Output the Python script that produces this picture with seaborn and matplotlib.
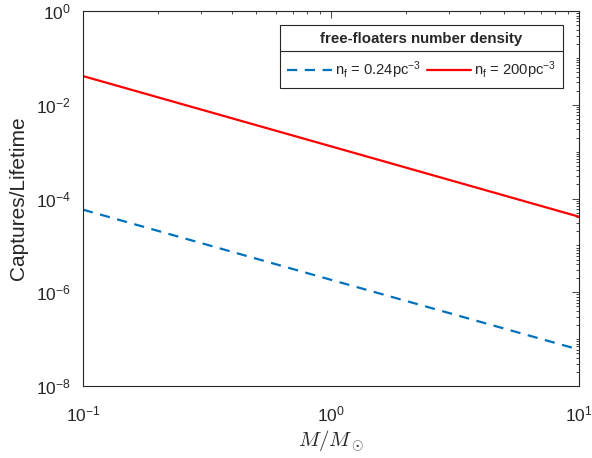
import numpy as np
import pandas as pd
import matplotlib
matplotlib.use("Agg")
import matplotlib.pyplot as plt
import matplotlib.ticker as mticker
from matplotlib.lines import Line2D
import seaborn as sns

# Capture rate per lifetime vs. stellar mass, for two free-floater densities
mass = [0.1, 1.0, 10.0]
rate_low = [5.8e-5, 1.85e-6, 6.0e-8]     # n_f = 0.24 pc^-3
rate_high = [4.1e-2, 1.3e-3, 4.1e-5]     # n_f = 200 pc^-3
labels = [r"$\mathregular{n_f}$ = 0.24pc$^{\mathregular{-3}}$",
          r"$\mathregular{n_f}$ = 200pc$^{\mathregular{-3}}$"]
legend_title = "free-floaters number density"
x_ticks = [0.1, 1.0, 10.0]
y_ticks = [1e-8, 1e-6, 1e-4, 1e-2, 1e0]

sns.set_style("white")
plt.rcParams["font.family"] = ["Liberation Sans", "DejaVu Sans"]
plt.rcParams["mathtext.fontset"] = "custom"
plt.rcParams["mathtext.rm"] = "Liberation Sans"
plt.rcParams["mathtext.it"] = "Liberation Sans:italic"
plt.rcParams["mathtext.bf"] = "Liberation Sans:bold"

df = pd.DataFrame({
    "M": mass * 2,
    "rate": rate_low + rate_high,
    "series": [labels[0]] * len(mass) + [labels[1]] * len(mass),
})

fig = plt.figure(figsize=(5.92, 4.58), dpi=100)
ax = fig.add_axes([0.140, 0.157, 0.838, 0.819])

sns.lineplot(data=df[df.series == labels[0]], x="M", y="rate", ax=ax,
             color="#0072BD", linewidth=1.6, label=labels[0])
sns.lineplot(data=df[df.series == labels[1]], x="M", y="rate", ax=ax,
             color="#FF0000", linewidth=1.6, label=labels[1])
ax.lines[0].set_dashes((4.6, 3.4))

ax.set_xscale("log")
ax.set_yscale("log")
ax.set_xlim(0.1, 10)
ax.set_ylim(1e-8, 1)

ax.xaxis.set_major_locator(mticker.FixedLocator(x_ticks))
ax.yaxis.set_major_locator(mticker.FixedLocator(y_ticks))
ax.xaxis.set_minor_locator(mticker.LogLocator(base=10, subs=np.arange(2, 10), numticks=20))
ax.yaxis.set_minor_locator(mticker.LogLocator(base=10, subs=np.arange(1, 10), numticks=40))

def pow_fmt(v, pos):
    e = int(round(np.log10(v)))
    return r"$\mathregular{10^{%d}}$" % e

ax.xaxis.set_major_formatter(mticker.FuncFormatter(pow_fmt))
ax.yaxis.set_major_formatter(mticker.FuncFormatter(pow_fmt))
ax.xaxis.set_minor_formatter(mticker.NullFormatter())
ax.yaxis.set_minor_formatter(mticker.NullFormatter())

ax.tick_params(which="both", direction="in", top=True, right=True,
               color="#262626", width=0.6)
ax.tick_params(which="major", length=5, labelsize=12.5, labelcolor="#262626")
ax.tick_params(axis="x", which="major", pad=13)
ax.tick_params(axis="y", which="major", pad=8.5)
ax.tick_params(which="minor", length=2.5)
for s in ax.spines.values():
    s.set_color("#262626")
    s.set_linewidth(0.8)

ax.set_ylabel("Captures/Lifetime", fontsize=15, color="#262626")
ax.yaxis.set_label_coords(-0.111, 0.5)
ax.set_xlabel(r"$M/M_\odot$", fontsize=15, color="#262626",
              math_fontfamily="cm", labelpad=3)

leg = ax.legend(ncol=2, title=legend_title, loc="upper right",
                bbox_to_anchor=(0.968, 0.963), borderaxespad=0,
                fancybox=False, frameon=True, edgecolor="#262626",
                fontsize=10.6, handlelength=3.0, handletextpad=0.2,
                columnspacing=0.4, borderpad=0.5, labelspacing=0.9)
leg.get_title().set_fontweight("bold")
leg.get_title().set_fontsize(10.8)
leg.get_frame().set_linewidth(0.8)
leg.get_frame().set_alpha(1)

# Rule between the legend title and its entries
fig.canvas.draw()
r = fig.canvas.get_renderer()
lb = leg.get_window_extent(r)
tb = leg.get_title().get_window_extent(r)
y_sep = tb.y0 - 5
fig.add_artist(Line2D([lb.x0, lb.x1], [y_sep, y_sep], transform=None,
                      color="#262626", linewidth=0.8))

fig.savefig("out.png", dpi=100)
